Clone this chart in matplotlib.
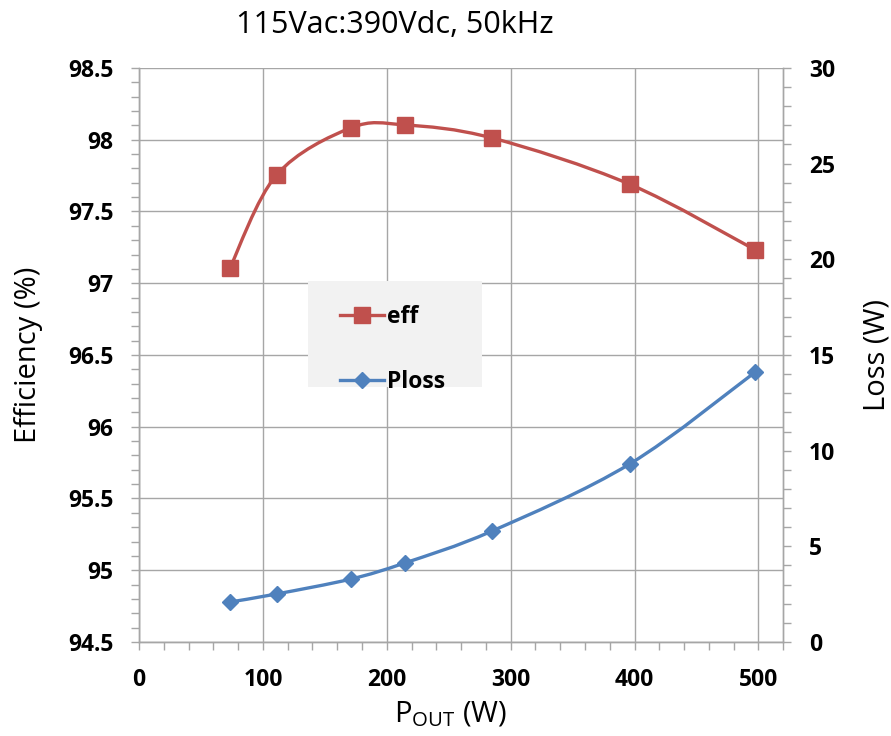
import matplotlib
matplotlib.use("Agg")
import matplotlib.pyplot as plt
from matplotlib.path import Path
from matplotlib.patches import PathPatch, Rectangle
from matplotlib.lines import Line2D
from matplotlib.ticker import MultipleLocator, FuncFormatter

# data
pout = [73.4, 111, 171, 214.5, 285, 396, 497.5]
eff = [97.106, 97.754, 98.082, 98.103, 98.012, 97.69, 97.232]
ploss = [2.09, 2.51, 3.29, 4.13, 5.80, 9.30, 14.11]

RED = '#c0504d'
BLUE = '#4f81bd'
GRID = '#a6a6a6'
FONT = ['Open Sans', 'DejaVu Sans']

plt.rcParams['font.family'] = FONT


def smooth_path(xs, ys):
    # excel-like smoothed line: cubic bezier segments through the points
    pts = list(zip(xs, ys))
    n = len(pts)
    verts = [pts[0]]
    codes = [Path.MOVETO]
    for i in range(n - 1):
        p0 = pts[i - 1] if i > 0 else pts[i]
        p1 = pts[i]
        p2 = pts[i + 1]
        p3 = pts[i + 2] if i + 2 < n else pts[i + 1]
        c1 = (p1[0] + (p2[0] - p0[0]) / 6, p1[1] + (p2[1] - p0[1]) / 6)
        c2 = (p2[0] - (p3[0] - p1[0]) / 6, p2[1] - (p3[1] - p1[1]) / 6)
        verts += [c1, c2, p2]
        codes += [Path.CURVE4] * 3
    return Path(verts, codes)


fig = plt.figure(figsize=(8.91, 7.36), dpi=100)
ax = fig.add_axes([0.156, 0.1277, 0.723, 0.78])
ax2 = ax.twinx()

ax.set_xlim(0, 520)
ax.set_ylim(94.5, 98.5)
ax2.set_ylim(0, 30)

ax.xaxis.set_major_locator(MultipleLocator(100))
ax.xaxis.set_minor_locator(MultipleLocator(20))
ax.yaxis.set_major_locator(MultipleLocator(0.5))
ax.yaxis.set_minor_locator(MultipleLocator(0.1))
ax2.yaxis.set_major_locator(MultipleLocator(5))
ax2.yaxis.set_minor_locator(MultipleLocator(1))
ax.yaxis.set_major_formatter(FuncFormatter(lambda v, p: f'{v:g}'))

ax.grid(True, which='major', color=GRID, linewidth=1.0)
ax.set_axisbelow(True)

for a in (ax, ax2):
    for s in a.spines.values():
        s.set_color(GRID)
        s.set_linewidth(1.0)
    a.tick_params(which='both', color=GRID, width=1.0, direction='out')
    a.tick_params(which='major', length=5.5, pad=13, labelsize=16.5)
    a.tick_params(which='minor', length=5.5)
ax.spines['top'].set_visible(False)
ax2.spines['top'].set_visible(False)

for lab in ax.get_xticklabels() + ax.get_yticklabels() + ax2.get_yticklabels():
    lab.set_fontweight('bold')

# efficiency on left axis
ax.add_patch(PathPatch(smooth_path(pout, eff), fill=False, edgecolor=RED,
                       linewidth=2.4, zorder=3))
ax.plot(pout, eff, linestyle='none', marker='s', markersize=11.5,
        color=RED, zorder=4, clip_on=False)

# loss on right axis
ax2.add_patch(PathPatch(smooth_path(pout, ploss), fill=False, edgecolor=BLUE,
                        linewidth=2.4, zorder=3))
ax2.plot(pout, ploss, linestyle='none', marker='D', markersize=8,
         color=BLUE, zorder=4, clip_on=False)

fig.text(395 / 891, 1 - 25 / 736, '115Vac:390Vdc, 50kHz', fontsize=22,
         ha='center', va='center')
ax.set_xlabel('P$_{\\mathregular{OUT}}$ (W)', fontsize=21)
ax.xaxis.set_label_coords(0.484, -0.1)
ax.set_ylabel('Efficiency (%)', fontsize=21)
ax.yaxis.set_label_coords(-0.149, 0.5)
ax2.set_ylabel('Loss (W)', fontsize=21)
ax2.yaxis.set_label_coords(1.123, 0.5)

# legend box (grey panel, no border)
ax2.add_patch(Rectangle((308 / 891, 1 - 387 / 736), 174 / 891, 106 / 736,
                        transform=fig.transFigure, facecolor='#f2f2f2',
                        edgecolor='none', zorder=4.5, clip_on=False))
handles = [
    Line2D([], [], color=RED, linewidth=2.4, marker='s', markersize=11.5),
    Line2D([], [], color=BLUE, linewidth=2.4, marker='D', markersize=8),
]
leg = ax2.legend(handles, ['eff', 'Ploss'], loc='upper left',
                 bbox_to_anchor=(340 / 891, 1 - 305 / 736),
                 bbox_transform=fig.transFigure,
                 prop={'family': FONT, 'weight': 'bold', 'size': 16.5},
                 frameon=False, handlelength=1.9,
                 handletextpad=0.15, labelspacing=1.8, borderpad=0,
                 borderaxespad=0)
leg.set_zorder(5)

fig.savefig('out.png', dpi=100)
